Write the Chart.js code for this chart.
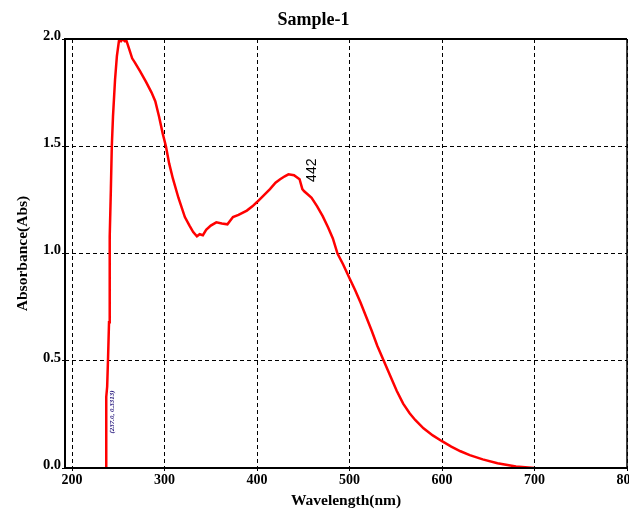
<!DOCTYPE html>
<html>
<head>
<meta charset="utf-8">
<script src="https://cdn.jsdelivr.net/npm/chart.js@4.4.1/dist/chart.umd.min.js"></script>
<style>
  html, body { margin:0; padding:0; background:#fff; }
  #wrap { width:629px; height:513px; }
</style>
</head>
<body>
<div id="wrap"><canvas id="chart"></canvas></div>
<script>
// UV-Vis spectrum
const wavelength = [
  236.8, 237, 238, 239, 240, 240.5, 241, 242, 243, 244.3, 246.5, 248.5, 251, 253, 255, 257, 259,
  262, 265, 268, 273.5, 280, 286, 290, 294, 298, 301.5, 305, 309, 315, 322, 327, 331, 335,
  338, 341.5, 345, 350, 356, 362, 368, 374, 380, 389, 395, 400, 407, 414, 420, 425, 430,
  434, 440, 446, 449, 451, 455, 459, 465, 471, 477, 482, 487, 493, 500, 506, 512, 518,
  524, 530, 537, 544, 551, 558, 565, 571, 580, 590, 600, 610, 620, 630, 644, 660, 680, 700
];
const absorbance = [
  0.0, 0.3313, 0.38, 0.52, 0.68, 0.86, 1.08, 1.30, 1.50, 1.64, 1.81, 1.92, 2.0, 1.99, 2.0, 1.99, 1.99,
  1.95, 1.91, 1.89, 1.85, 1.80, 1.75, 1.71, 1.64, 1.56, 1.50, 1.42, 1.35, 1.26, 1.17, 1.13, 1.10, 1.08,
  1.09, 1.085, 1.11, 1.13, 1.145, 1.14, 1.136, 1.17, 1.18, 1.20, 1.22, 1.24, 1.27, 1.30, 1.33, 1.346, 1.36,
  1.369, 1.365, 1.346, 1.30, 1.29, 1.275, 1.26, 1.22, 1.174, 1.12, 1.07, 1.00, 0.95, 0.885, 0.83, 0.77, 0.705,
  0.64, 0.57, 0.50, 0.43, 0.36, 0.30, 0.255, 0.224, 0.185, 0.152, 0.125, 0.10, 0.078, 0.06, 0.04, 0.022, 0.007, 0.0
];
const xTicks = [200, 300, 400, 500, 600, 700, 800];
const yTicks = [0.0, 0.5, 1.0, 1.5, 2.0];
// peak / point labels: [text, wavelength, absorbance]
const peakLabels = [['442', 442, 1.365]];
const pointLabels = [['(237.0, 0.3313)', 237.0, 0.3313]];

const SERIF = '"Liberation Serif", "Times New Roman", serif';

// frame around the plot area + text labels
const framePlugin = {
  id: 'frame',
  afterDatasetsDraw(chart) {
    const { ctx, scales: { x, y } } = chart;
    ctx.save();
    ctx.fillStyle = '#000';
    ctx.font = '14px "Liberation Sans", Arial, sans-serif';
    ctx.textAlign = 'center'; ctx.textBaseline = 'middle';
    peakLabels.forEach(([t, wx, wy]) => {
      ctx.save();
      ctx.translate(x.getPixelForValue(wx) + 16, y.getPixelForValue(wy) - 5);
      ctx.rotate(-Math.PI / 2);
      ctx.fillText(t, 0, 0);
      ctx.restore();
    });
    ctx.fillStyle = '#1e0f78';
    ctx.font = 'italic bold 7px ' + SERIF;
    pointLabels.forEach(([t, wx, wy]) => {
      ctx.save();
      ctx.translate(x.getPixelForValue(wx) + 6, y.getPixelForValue(wy) + 15);
      ctx.rotate(-Math.PI / 2);
      ctx.fillText(t, 0, 0);
      ctx.restore();
    });
    ctx.restore();
  },
  afterDraw(chart) {
    const { ctx, chartArea: a } = chart;
    ctx.save();
    ctx.strokeStyle = '#000';
    ctx.lineWidth = 2;
    ctx.beginPath();
    ctx.moveTo(a.right, a.top); ctx.lineTo(a.left, a.top); ctx.lineTo(a.left, a.bottom); ctx.lineTo(a.right, a.bottom);
    ctx.stroke();
    ctx.lineWidth = 1.5;
    ctx.beginPath(); ctx.moveTo(a.right, a.top); ctx.lineTo(a.right, a.bottom); ctx.stroke();
    ctx.restore();
  }
};

new Chart(document.getElementById('chart'), {
  type: 'line',
  data: {
    datasets: [{
      data: wavelength.map((w, i) => ({ x: w, y: absorbance[i] })),
      borderColor: '#ff0000', borderWidth: 2.5, pointRadius: 0, tension: 0, fill: false
    }]
  },
  options: {
    animation: false, responsive: true, maintainAspectRatio: false,
    layout: { padding: { left: 0, right: 2, top: 0, bottom: 0 } },
    plugins: {
      legend: { display: false },
      tooltip: { enabled: false },
      title: {
        display: true, text: 'Sample-1', color: '#000',
        font: { family: SERIF, size: 18, weight: 'bold' },
        padding: { top: 10, bottom: 7.4 }
      }
    },
    scales: {
      x: {
        type: 'linear', min: 192.4, max: 800,
        afterBuildTicks: s => { s.ticks = xTicks.map(v => ({ value: v })); },
        afterFit: s => { s.height = 45; s.paddingLeft = 0; s.paddingRight = 0; },
        ticks: { color: '#000', font: { family: SERIF, size: 14, weight: 'bold' }, padding: 1, maxRotation: 0, autoSkip: false },
        grid: { color: '#000', lineWidth: 1, tickLength: 3, tickColor: '#000' },
        border: { display: false, dash: [4, 3] },
        title: { display: true, text: 'Wavelength(nm)', color: '#000', font: { family: SERIF, size: 15.5, weight: 'bold' }, padding: { top: 0, bottom: 3 } }
      },
      y: {
        min: 0, max: 2.0,
        afterBuildTicks: s => { s.ticks = yTicks.map(v => ({ value: v })); },
        afterFit: s => { s.width = 65; },
        ticks: { color: '#000', font: { family: SERIF, size: 14.5, weight: 'bold' }, padding: 1, labelOffset: -3,
          callback: v => v.toFixed(1) },
        grid: { color: '#000', lineWidth: 1, tickLength: 3, tickColor: '#000' },
        border: { display: false, dash: [4, 3] },
        title: { display: true, text: 'Absorbance(Abs)', color: '#000', font: { family: SERIF, size: 15.5, weight: 'bold' }, padding: { top: 14, bottom: 0 } }
      }
    }
  },
  plugins: [framePlugin]
});
</script>
</body>
</html>
